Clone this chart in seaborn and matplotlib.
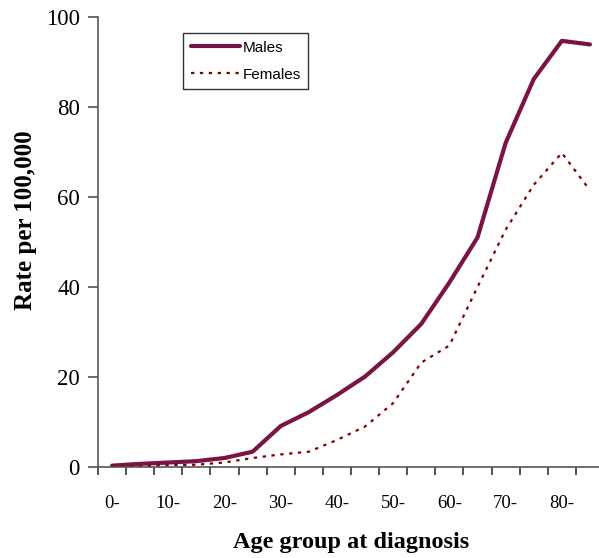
import matplotlib
matplotlib.use("Agg")
import matplotlib.pyplot as plt
from matplotlib.ticker import FixedLocator, FixedFormatter
import seaborn as sns
import pandas as pd
import numpy as np

age_groups = ["0-", "5-", "10-", "15-", "20-", "25-", "30-", "35-", "40-", "45-",
              "50-", "55-", "60-", "65-", "70-", "75-", "80-", "85-"]
males = [0.3, 0.7, 1.0, 1.3, 2.0, 3.4, 9.1, 12.2, 16.0, 20.1,
         25.5, 31.8, 41.0, 51.0, 72.0, 86.2, 94.7, 93.9]
females = [0.1, 0.2, 0.4, 0.5, 1.0, 2.0, 2.8, 3.4, 6.0, 9.0,
           14.2, 23.2, 27.0, 40.0, 52.7, 62.7, 69.8, 61.5]
yticks = [0, 20, 40, 60, 80, 100]

df_m = pd.DataFrame({"age": age_groups, "rate": males})
df_f = pd.DataFrame({"age": age_groups, "rate": females})

sns.set_style("ticks")
plt.rcParams["font.family"] = ["Liberation Serif", "DejaVu Serif"]
plt.rcParams["text.color"] = "black"
plt.rcParams["axes.labelcolor"] = "black"
plt.rcParams["xtick.color"] = "black"
plt.rcParams["ytick.color"] = "black"

fig = plt.figure(figsize=(5.99, 5.58), dpi=100)
ax = fig.add_axes([98 / 599, 1 - 467 / 558, 506 / 599, 450 / 558])

sns.lineplot(data=df_m, x="age", y="rate", ax=ax, sort=False, color="#7A1444",
             linewidth=3, label="Males")
sns.lineplot(data=df_f, x="age", y="rate", ax=ax, sort=False, color="#800000",
             linewidth=1.6, linestyle=(0, (1.5, 2.5)), label="Females")

n = len(age_groups)
ax.set_xlim(-0.5, n - 0.5)
ax.set_ylim(0, 100)

# boundary tick marks (major) and category labels (minor, no marks)
ax.xaxis.remove_overlapping_locs = False
ax.xaxis.set_major_locator(FixedLocator(list(np.arange(-0.5, n, 1.0))))
ax.xaxis.set_major_formatter(FixedFormatter([""] * (n + 1)))
ax.xaxis.set_minor_locator(FixedLocator(list(range(n))))
ax.xaxis.set_minor_formatter(FixedFormatter(
    [lab if i % 2 == 0 else "" for i, lab in enumerate(age_groups)]))
ax.tick_params(axis="x", which="major", length=6, width=1.2, color="#333333",
               direction="out", bottom=True)
ax.tick_params(axis="x", which="minor", length=0, pad=20, bottom=True,
               labelsize=13.5)
ax.set_yticks(yticks)
ax.set_yticklabels([str(v) for v in yticks], fontsize=16.5)
ax.tick_params(axis="y", which="major", length=7, width=1.1, color="#444444",
               direction="out", pad=6, left=True)

for s in ["top", "right"]:
    ax.spines[s].set_visible(False)
for s in ["left", "bottom"]:
    ax.spines[s].set_color("#555555")
    ax.spines[s].set_linewidth(1.2)

ax.set_xlabel("Age group at diagnosis", fontsize=17.5, fontweight="bold")
ax.set_ylabel("Rate per 100,000", fontsize=18, fontweight="bold")
ax.xaxis.set_label_coords(0.5, -0.167)
ax.xaxis.label.set_va("center")
ax.yaxis.set_label_coords(-0.144, 0.549)
ax.yaxis.label.set_va("center")

leg = ax.legend(loc="upper left", bbox_to_anchor=(0.168, 0.964), borderaxespad=0,
                frameon=True, fancybox=False, shadow=False, edgecolor="black",
                prop={"family": "Liberation Sans", "size": 11},
                handlelength=3.2, handletextpad=0.2, labelspacing=0.85,
                borderpad=0.5)
leg.get_frame().set_linewidth(1.0)

fig.savefig("out.png", dpi=100, facecolor="white")
